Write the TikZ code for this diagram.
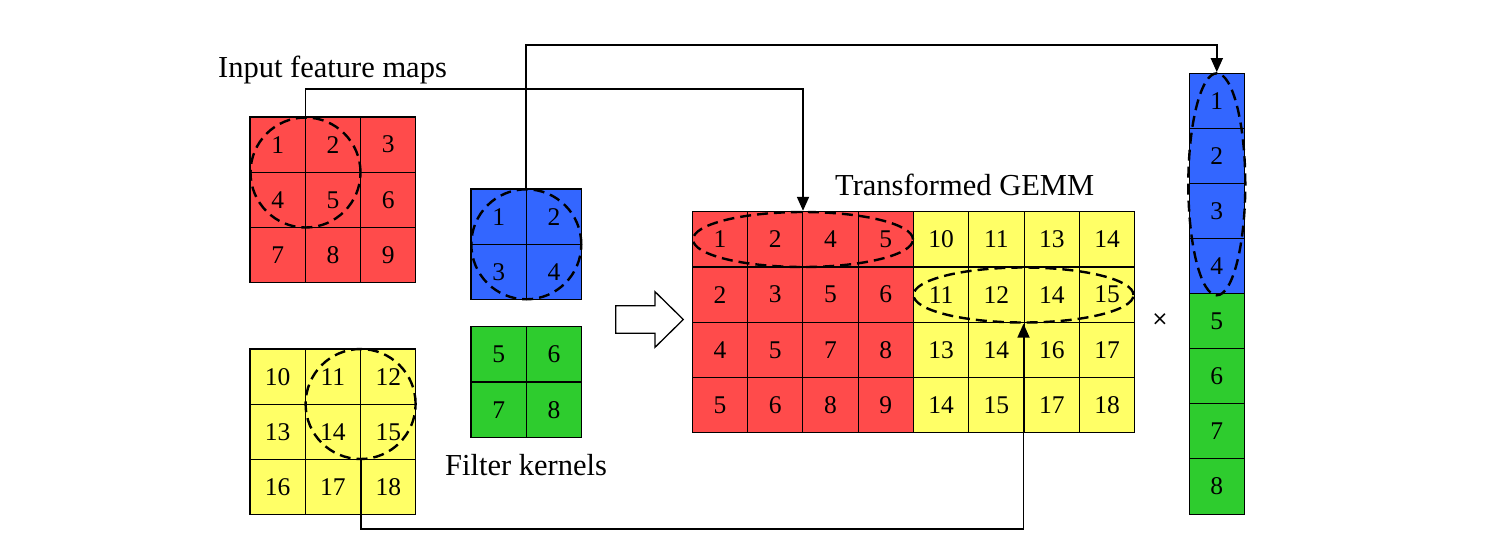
\documentclass[tikz,border=0pt]{standalone}
\usepackage{fontspec}
\setmainfont{Liberation Serif}
\newfontfamily\symfont{DejaVu Sans}
\usetikzlibrary{shapes.geometric,arrows.meta}
\definecolor{cred}{HTML}{FF4B4B}
\definecolor{cyel}{HTML}{FFFF66}
\definecolor{cblue}{HTML}{3366FF}
\definecolor{cgreen}{HTML}{2ECC2E}
\begin{document}
\begin{tikzpicture}[x=1pt,y=-1pt,
  cell/.style={draw, line width=1.1pt, minimum size=55.3pt, inner sep=0pt, font=\fontsize{25.5}{25.5}\selectfont},
  dashring/.style={draw, line width=2.4pt, dash pattern=on 11pt off 6pt, inner sep=0pt},
  conn/.style={line width=1.8pt, -{Triangle[length=14pt,width=12pt]}},
  lbl/.style={font=\fontsize{30.5}{30.5}\selectfont, anchor=base west, inner sep=0pt}]
\useasboundingbox (0,0) rectangle (1485,557);

% red input map
\foreach \v [count=\k from 0] in {1,...,9} {
  \pgfmathtruncatemacro\i{mod(\k,3)}
  \pgfmathtruncatemacro\j{div(\k,3)}
  \node[cell, fill=cred] (r\v) at ({250+55.3*(\i+0.5)},{117+55.3*(\j+0.5)}) {\v};
}
% yellow input map
\foreach \v [count=\k from 0] in {10,...,18} {
  \pgfmathtruncatemacro\i{mod(\k,3)}
  \pgfmathtruncatemacro\j{div(\k,3)}
  \node[cell, fill=cyel] (y\v) at ({250+55.3*(\i+0.5)},{349+55.3*(\j+0.5)}) {\v};
}
% blue kernel
\foreach \v [count=\k from 0] in {1,...,4} {
  \pgfmathtruncatemacro\i{mod(\k,2)}
  \pgfmathtruncatemacro\j{div(\k,2)}
  \node[cell, fill=cblue] (b\v) at ({471+55.3*(\i+0.5)},{189+55.3*(\j+0.5)}) {\v};
}
% green kernel
\foreach \v [count=\k from 0] in {5,...,8} {
  \pgfmathtruncatemacro\i{mod(\k,2)}
  \pgfmathtruncatemacro\j{div(\k,2)}
  \node[cell, fill=cgreen] (gk\v) at ({471+55.3*(\i+0.5)},{326.7+55.3*(\j+0.5)}) {\v};
}
% GEMM matrix
\foreach \v [count=\k from 0] in {1,2,4,5,10,11,13,14, 2,3,5,6,11,12,14,15, 4,5,7,8,13,14,16,17, 5,6,8,9,14,15,17,18} {
  \pgfmathtruncatemacro\i{mod(\k,8)}
  \pgfmathtruncatemacro\j{div(\k,8)}
  \ifnum\i<4 \def\fc{cred}\else\def\fc{cyel}\fi
  \node[cell, fill=\fc] (g-\j-\i) at ({692.3+55.3*(\i+0.5)},{211.7+55.3*(\j+0.5)}) {\v};
}
% column vector
\foreach \v [count=\k from 0] in {1,...,8} {
  \ifnum\k<4 \def\fc{cblue}\else\def\fc{cgreen}\fi
  \node[cell, fill=\fc] (v\v) at (1216.8,{73.3+55.1*(\k+0.5)}) {\v};
}

% dashed rings
\node[dashring, circle, minimum size=110pt] (c1) at (305.5,172.5) {};
\node[dashring, circle, minimum size=110pt] (c2) at (360.6,404) {};
\node[dashring, circle, minimum size=110pt] (c3) at (526.3,244.3) {};
\node[dashring, ellipse, minimum width=220pt, minimum height=55pt] (e1) at (803,239.5) {};
\node[dashring, ellipse, minimum width=220pt, minimum height=55pt] (e2) at (1023.5,295) {};
\node[dashring, ellipse, minimum width=57pt, minimum height=222pt] (e3) at (1216.8,184.3) {};

% connectors
\draw[conn] (c1.north) -- ++(0,-27.3) -| (e1.north);
\draw[conn] (c3.north) -- ++(0,-143.3) -| (e3.north);
\draw[conn] (c2.south) -- ++(0,69) -| (e2.south);

% hollow arrow
\draw[line width=1.3pt, fill=white] (615.7,305.7) -- (655,305.7) -- (655,291.7) -- (683.3,319.5) -- (655,347.3) -- (655,333.3) -- (615.7,333.3) -- cycle;

% labels
\node[lbl] (tin) at (218,77) {Input feature maps};
\node[lbl] (tgemm) at (835,195) {Transformed GEMM};
\node[lbl] (tfk) at (445,475) {Filter kernels};
\node[font=\symfont\fontsize{20}{20}\selectfont, inner sep=0pt] (times) at (1160,320) {×};
\end{tikzpicture}
\end{document}
